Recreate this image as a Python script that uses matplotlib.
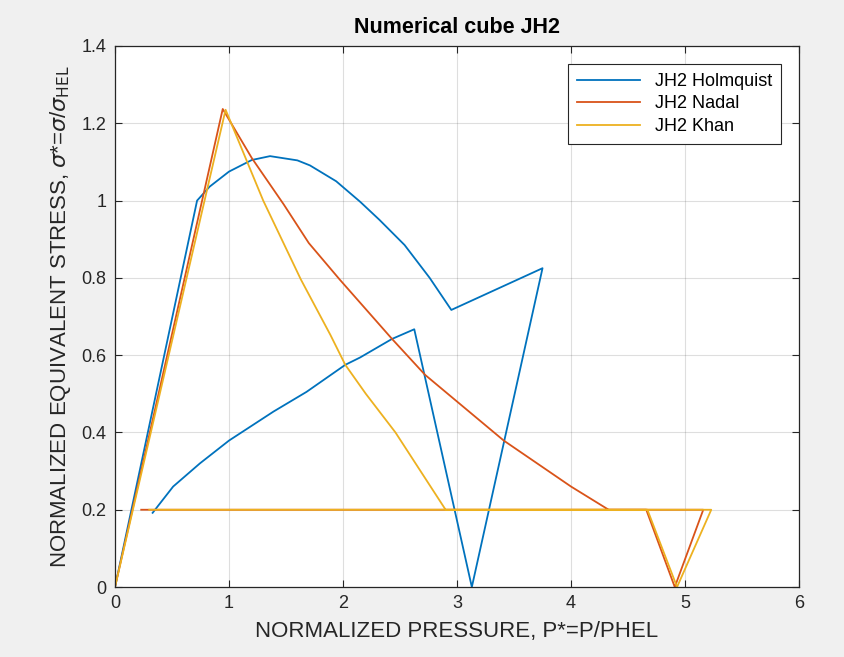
import matplotlib
matplotlib.use("Agg")
import matplotlib.pyplot as plt

# normalized pressure / stress paths
holmquist_p = [0, 0.72, 0.83, 1.0, 1.2, 1.36, 1.6, 1.71, 1.94, 2.15, 2.32, 2.54, 2.76, 2.95,
               3.75, 3.13, 2.625, 2.43, 2.15, 2.02, 1.68, 1.39, 1.0, 0.745, 0.51, 0.33]
holmquist_s = [0, 1.0, 1.036, 1.075, 1.105, 1.115, 1.104, 1.091, 1.05, 0.997, 0.95, 0.885, 0.80, 0.717,
               0.825, 0, 0.667, 0.642, 0.594, 0.575, 0.505, 0.454, 0.379, 0.32, 0.26, 0.192]

nadal_p = [0, 0.945, 1.2, 1.48, 1.7, 1.97, 2.43, 2.72, 3.0, 3.41, 4.0, 4.33, 5.16, 4.91, 4.66, 0.23]
nadal_s = [0, 1.237, 1.11, 0.99, 0.89, 0.796, 0.642, 0.549, 0.48, 0.379, 0.26, 0.2, 0.2, 0, 0.2, 0.2]

khan_p = [0, 0.97, 1.3, 1.63, 1.89, 2.02, 2.2, 2.46, 2.9, 5.23, 4.93, 4.67, 0.30]
khan_s = [0, 1.235, 1.0, 0.796, 0.652, 0.575, 0.50, 0.40, 0.2, 0.2, 0, 0.2, 0.2]

plt.rcParams.update({
    "font.family": ["Liberation Sans", "DejaVu Sans"],
    "mathtext.fontset": "dejavusans",
})

AX_COL = "#262626"

fig = plt.figure(figsize=(8.45, 6.57), dpi=100, facecolor="#f0f0f0")
ax = fig.add_axes([0.1361, 0.1065, 0.8095, 0.8235])
ax.set_facecolor("white")

ax.plot(holmquist_p, holmquist_s, color="#0072BD", lw=1.3, label="JH2 Holmquist")
ax.plot(nadal_p, nadal_s, color="#D95319", lw=1.3, label="JH2 Nadal")
ax.plot(khan_p, khan_s, color="#EDB120", lw=1.3, label="JH2 Khan")

ax.set_xlim(0, 6)
ax.set_ylim(0, 1.4)
ax.set_xticks([0, 1, 2, 3, 4, 5, 6])
ax.set_yticks([0, 0.2, 0.4, 0.6, 0.8, 1.0, 1.2, 1.4])
ax.set_yticklabels(["0", "0.2", "0.4", "0.6", "0.8", "1", "1.2", "1.4"])
ax.grid(True, color=AX_COL, alpha=0.15, lw=0.8)
ax.tick_params(direction="in", top=True, right=True, length=5, width=0.8,
               colors=AX_COL, labelsize=13, pad=6)
for sp in ax.spines.values():
    sp.set_color(AX_COL)
    sp.set_linewidth(0.9)

ax.set_xlabel("NORMALIZED PRESSURE, P*=P/PHEL", fontsize=16, color=AX_COL, labelpad=6)
ax.set_ylabel(r"NORMALIZED EQUIVALENT STRESS, $\sigma$*=$\sigma$/$\sigma_{\mathrm{HEL}}$",
              fontsize=16, color=AX_COL, labelpad=6)
ax.set_title("Numerical cube JH2", fontsize=15.5, fontweight="bold", color="black", pad=9)

leg = ax.legend(loc="upper right", fontsize=13, fancybox=False, framealpha=1,
                edgecolor=AX_COL, handlelength=3.5, borderaxespad=1.0, labelspacing=0.3,
                borderpad=0.5)
leg.get_frame().set_linewidth(0.8)

fig.savefig("out.png", dpi=100, facecolor=fig.get_facecolor())
